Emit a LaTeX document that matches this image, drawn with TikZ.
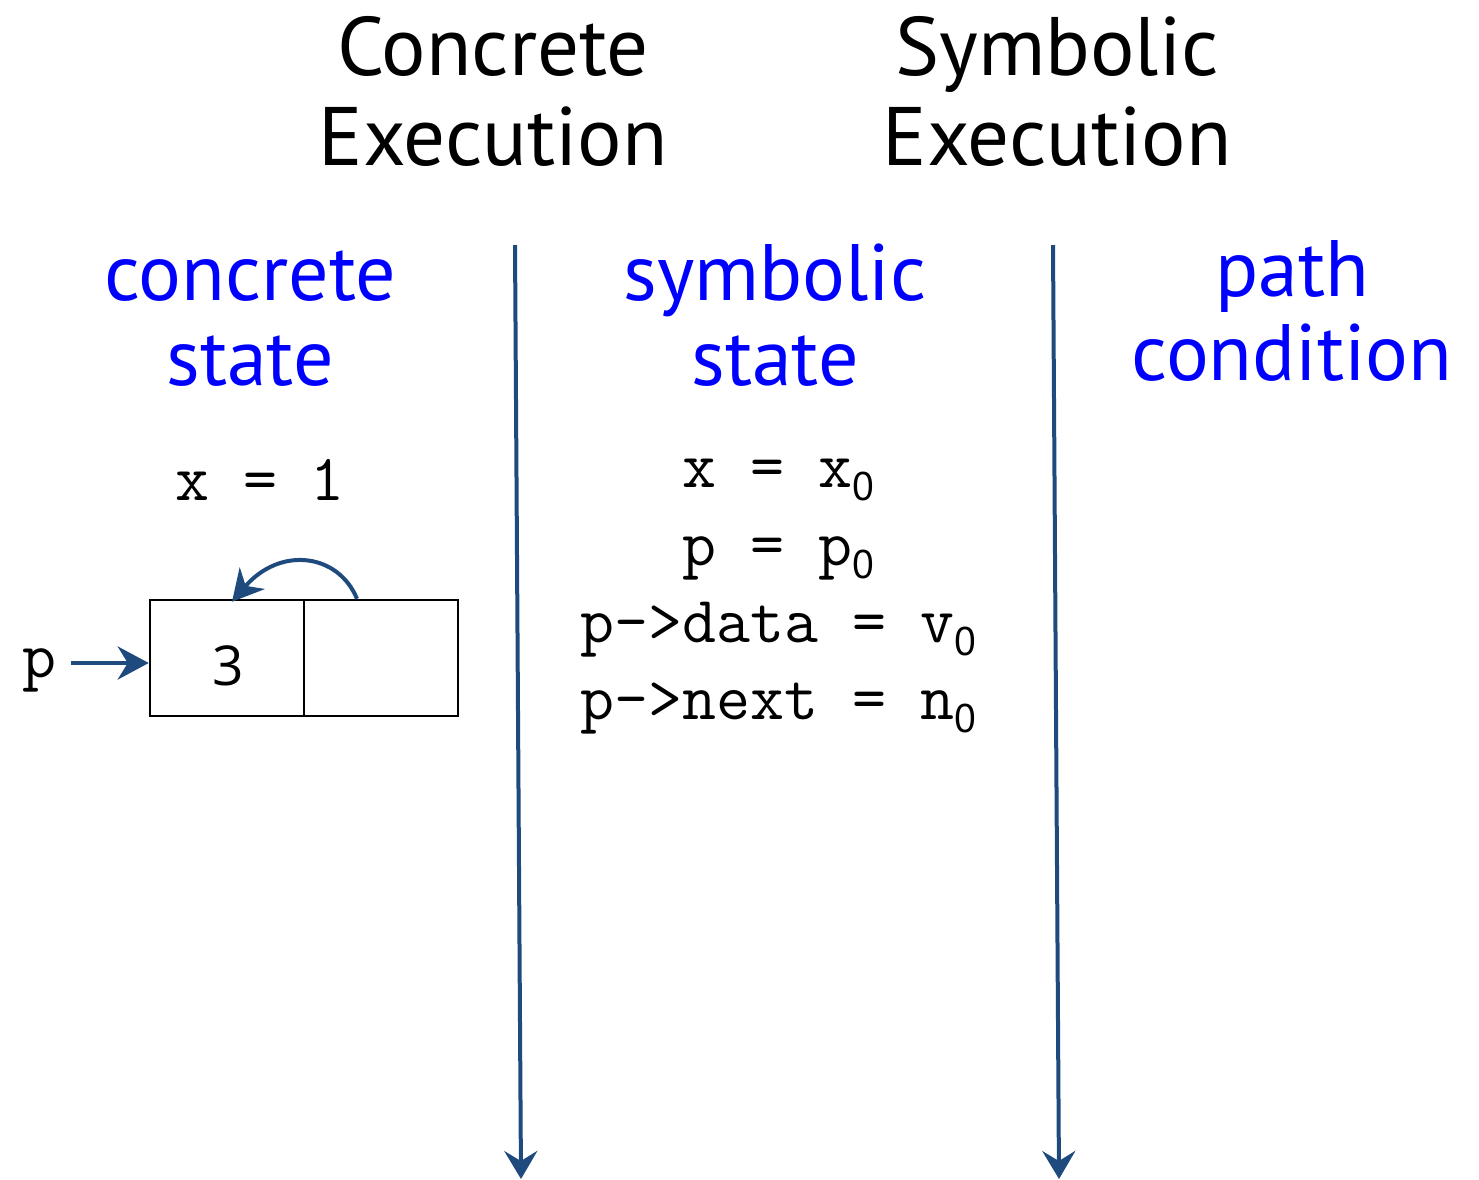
\documentclass[tikz,border=0pt]{standalone}
\usepackage{fontspec}
\setsansfont{PT Sans}
\newfontfamily\digitfont{Open Sans}
\usetikzlibrary{arrows.meta}
\definecolor{flow}{HTML}{1F4A7E}
\definecolor{lbl}{HTML}{0000FF}
\newcommand{\zsub}[1]{\raisebox{-13pt}{\sffamily\fontsize{40}{40}\selectfont #1}}
\tikzset{
  title/.style={font=\sffamily\fontsize{83}{90}\selectfont, anchor=base, inner sep=0pt},
  head/.style={font=\sffamily\fontsize{80}{90}\selectfont, anchor=base, inner sep=0pt, text=lbl},
  code/.style={font=\ttfamily\fontsize{66}{66}\selectfont, anchor=base, inner sep=0pt},
  timeline/.style={draw=flow, line width=4pt, -{Stealth[length=28pt,width=33pt,inset=10pt]}},
  ptr/.style={draw=flow, line width=4.5pt, -{Stealth[length=31pt,width=33pt,inset=10pt]}},
  cell/.style={draw=black, line width=2.5pt, minimum width=154pt, minimum height=116pt, inner sep=0pt},
}
\begin{document}
\begin{tikzpicture}[x=1pt, y=-1pt]
\useasboundingbox (0,0) rectangle (1479,1179);

% column titles
\node[title] (c1) at (493,75) {Concrete};
\node[title] (c2) at (493,165) {Execution};
\node[title] (s1) at (1057,75) {Symbolic};
\node[title] (s2) at (1057,165) {Execution};

% column headings
\node[head] (cs1) at (250,300) {concrete};
\node[head] (cs2) at (250,385) {state};
\node[head] (ss1) at (775,300) {symbolic};
\node[head] (ss2) at (775,385) {state};
\node[head] (pc1) at (1292,296) {path};
\node[head] (pc2) at (1292,380) {condition};

% time lines
\coordinate (t1a) at (515,245);
\coordinate (t1b) at (521,1179);
\coordinate (t2a) at (1053,245);
\coordinate (t2b) at (1059,1179);
\draw[timeline] (t1a) -- (t1b);
\draw[timeline] (t2a) -- (t2b);

% concrete state
\node[code] (x1) at (260,500) {x = 1};
\node[cell] (data) at (227,658) {};
\node[cell] (nxt) at (381,658) {};
\node[font=\digitfont\fontsize{55}{55}\selectfont, anchor=base, inner sep=0pt] (three) at (228,685) {3};
\node[code] (pv) at (39,677) {p};
\coordinate (pstart) at (71,663);
\draw[ptr] (pstart) -- (pstart -| data.west);
\draw[ptr, line width=4pt] ([xshift=-24pt]nxt.north) .. controls (338,553) and (280,546) .. ([xshift=5pt,yshift=-3pt]data.north);

% symbolic state
\node[code] (l1) at (778,487) {x = x\zsub{0}};
\node[code] (l2) at (778,565) {p = p\zsub{0}};
\node[code] (l3) at (778,642) {p->data = v\zsub{0}};
\node[code] (l4) at (778,719) {p->next = n\zsub{0}};
\end{tikzpicture}
\end{document}
